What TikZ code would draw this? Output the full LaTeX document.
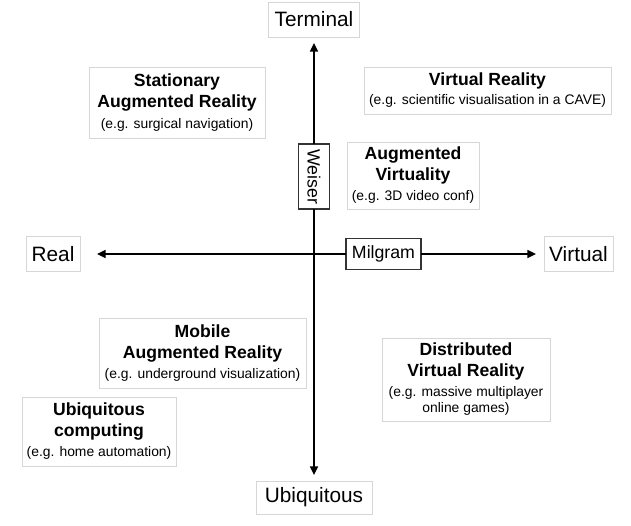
\documentclass[tikz,border=0pt]{standalone}
\usepackage{fontspec}
\setmainfont{Liberation Sans}
\usetikzlibrary{arrows.meta}

\newcommand{\hd}{\fontsize{13.2}{15.75}\selectfont\bfseries}
\newcommand{\eg}{\fontsize{10.4}{12}\selectfont\mdseries}

\begin{document}
\begin{tikzpicture}[
    x=0.75pt, y=-0.75pt,
    every node/.style={inner sep=0pt, outer sep=0pt},
    quad/.style={draw=black!16, fill=white, align=center, font=\hd, line width=0.7pt},
    pole/.style={draw=black!16, fill=white, font=\fontsize{15.6}{18}\selectfont, line width=0.7pt},
    axis/.style={draw=black!80, fill=white, font=\fontsize{13.3}{15}\selectfont, line width=0.9pt},
    arr/.style={-{Triangle[length=6.5pt,width=6pt]}, line width=1.2pt}
]
    \useasboundingbox (0,0) rectangle (631,525);

    % Poles
    \node[pole, minimum width=68pt, minimum height=26.25pt] (terminal) at (314,19.5) {Terminal};
    \node[pole, minimum width=87pt, minimum height=24.75pt] (ubiq) at (314,497.5) {Ubiquitous};
    \node[pole, minimum width=40.5pt, minimum height=26.25pt] (real) at (53,254) {Real};
    \node[pole, minimum width=51.75pt, minimum height=26.25pt] (virtual) at (578.5,254) {Virtual};

    % Axis labels
    \node[axis, minimum width=56.25pt, minimum height=23.25pt] (milgram) at (383.5,254) {Milgram};
    \node[axis, rotate=-90, minimum width=48.75pt, minimum height=23.25pt] (weiser) at (314,176.5) {Weiser};

    % Quadrants
    \node[quad, minimum width=132pt, minimum height=53.25pt] (stationary) at (177,102.5)
        {Stationary\\ Augmented Reality\\ {\eg (e.g. surgical navigation)}};
    \node[quad, minimum width=185.25pt, minimum height=35.25pt] (vr) at (487.5,90.5)
        {Virtual Reality\\[-1.5pt] {\eg (e.g. scientific visualisation in a CAVE)}};
    \node[quad, minimum width=99pt, minimum height=50.25pt] (augvirt) at (413,175.5)
        {Augmented\\ Virtuality\\[-0.75pt] {\eg (e.g. 3D video conf)}};
    \node[quad, minimum width=155.25pt, minimum height=52.5pt] (mobile) at (202.5,353)
        {Mobile\\ Augmented Reality\\[-0.75pt] {\eg (e.g. underground visualization)}};
    \node[quad, minimum width=126pt, minimum height=62.25pt] (distr) at (466,379.5)
        {Distributed\\ Virtual Reality\\[-0.75pt] {\eg (e.g. massive multiplayer}\\[-3.75pt] {\eg online games)}};
    \node[quad, minimum width=115.5pt, minimum height=51.75pt] (ubicomp) at (99,431.5)
        {Ubiquitous\\ computing\\[-0.75pt] {\eg (e.g. home automation)}};

    % Arrows
    \path[arr]
        (weiser) edge[shorten >=4.5pt] (terminal)
        (weiser) edge[shorten >=4.5pt] (ubiq)
        (milgram) edge[shorten >=12.75pt] (real)
        (milgram) edge[shorten >=6pt] (virtual);
\end{tikzpicture}
\end{document}
